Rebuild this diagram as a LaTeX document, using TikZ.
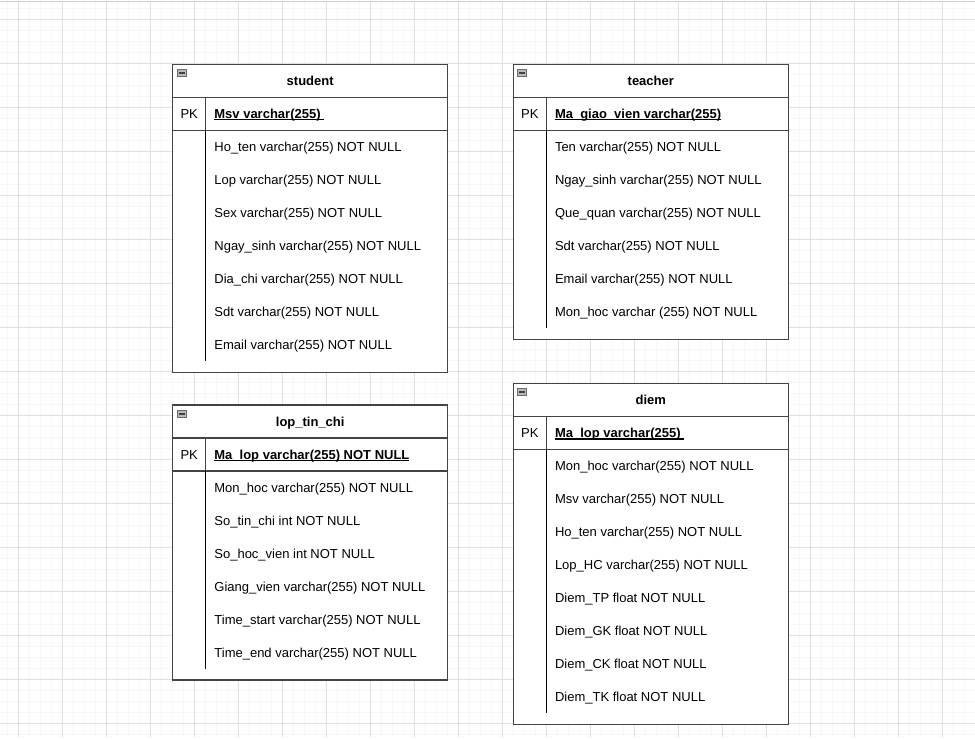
\documentclass[tikz,border=0pt]{standalone}
\usepackage{fontspec}
\setmainfont{Liberation Sans}
\usetikzlibrary{positioning}

\definecolor{gridmajor}{HTML}{E0E0E0}
\definecolor{gridminor}{HTML}{F7F7F7}
\definecolor{tableline}{HTML}{444444}

\tikzstyle{tablebox} = [draw=tableline, line width=1.4pt, fill=white]
\tikzstyle{rowline} = [draw=tableline, line width=1.4pt]
\tikzstyle{pkdivider} = [draw=tableline, line width=1.2pt]
\tikzstyle{bodydivider} = [draw=black, line width=1.5pt]
\tikzstyle{titletext} = [anchor=base, inner sep=0pt, font=\fontsize{13}{15}\selectfont\bfseries]
\tikzstyle{pktext} = [anchor=base, inner sep=0pt, font=\fontsize{13}{15}\selectfont]
\tikzstyle{keytext} = [anchor=base west, inner sep=0pt, font=\fontsize{13}{15}\selectfont\bfseries]
\tikzstyle{fieldtext} = [anchor=base west, inner sep=0pt, font=\fontsize{13}{15}\selectfont]

\newcommand{\keyline}[1]{\setbox0\hbox{#1}\rlap{\rule[-2.2pt]{\wd0}{1.1pt}}\box0}

% #1 name, #2 left, #3 top, #4 title, #5 key, #6 number of rows, #7 rows
\newcommand{\ertable}[7]{%
  \pgfmathsetmacro\tbottom{#3+66+33*#6+11}
  \pgfmathsetmacro\dividerend{#3+66+33*#6}
  \draw[tablebox] (#2,#3) rectangle ({#2+275},\tbottom);
  \draw[rowline] (#2,{#3+33}) -- ({#2+275},{#3+33});
  \draw[rowline] (#2,{#3+66}) -- ({#2+275},{#3+66});
  \draw[pkdivider] ({#2+33},{#3+33}) -- ({#2+33},{#3+66});
  \draw[bodydivider] ({#2+33},{#3+66}) -- ({#2+33},\dividerend);
  % collapse icon
  \draw[draw=gray!85!black, fill=gray!55, line width=0.8pt] ({#2+4.5},{#3+5}) rectangle ({#2+13.5},{#3+12.5});
  \draw[draw=black!75, line width=1.4pt] ({#2+6},{#3+8.8}) -- ({#2+12},{#3+8.8});
  \node[titletext] (#1-title) at ({#2+137.5},{#3+21}) {#4};
  \node[pktext] (#1-pk) at ({#2+16.5},{#3+54}) {PK};
  \node[keytext] (#1-key) at ({#2+41.5},{#3+54}) {\keyline{#5}};
  \foreach \f [count=\i] in {#7}
    \node[fieldtext] (#1-row\i) at ({#2+41.5},{#3+66+33*\i-12}) {\f};
}

\begin{document}
\begin{tikzpicture}[x=1pt,y=-1pt]
\useasboundingbox (0,0) rectangle (975,741);
\fill[white] (0,0) rectangle (975,741);

% grid
\foreach \g in {0,...,88}
  \draw[gridminor, line width=1pt] ({7.5+11*\g},2) -- ({7.5+11*\g},737);
\foreach \g in {0,...,66}
  \draw[gridminor, line width=1pt] (0,{8.5+11*\g}) -- (975,{8.5+11*\g});
\foreach \g in {0,...,21}
  \draw[gridmajor, line width=1pt] ({18.5+44*\g},2) -- ({18.5+44*\g},737);
\foreach \g in {0,...,16}
  \draw[gridmajor, line width=1pt] (0,{19.5+44*\g}) -- (975,{19.5+44*\g});
\draw[gray!35, line width=1.5pt] (0,1.5) -- (975,1.5);

\ertable{student}{172.7}{64.3}{student}{Msv varchar(255)\ }{7}{Ho\_ten varchar(255) NOT NULL, Lop varchar(255) NOT NULL, Sex varchar(255) NOT NULL, Ngay\_sinh varchar(255) NOT NULL, Dia\_chi varchar(255) NOT NULL, Sdt varchar(255) NOT NULL, Email varchar(255) NOT NULL}

\ertable{teacher}{513.3}{64.3}{teacher}{Ma\_giao\_vien varchar(255)}{6}{Ten varchar(255) NOT NULL, Ngay\_sinh varchar(255) NOT NULL, Que\_quan varchar(255) NOT NULL, Sdt varchar(255) NOT NULL, Email varchar(255) NOT NULL, Mon\_hoc varchar (255) NOT NULL}

\ertable{loptinchi}{172.7}{405}{lop\_tin\_chi}{Ma\_lop varchar(255) NOT NULL}{6}{Mon\_hoc varchar(255) NOT NULL, So\_tin\_chi int NOT NULL, So\_hoc\_vien int NOT NULL, Giang\_vien varchar(255) NOT NULL, Time\_start varchar(255) NOT NULL, Time\_end varchar(255) NOT NULL}

\ertable{diem}{513.3}{383.3}{diem}{Ma\_lop varchar(255)\ }{8}{Mon\_hoc varchar(255) NOT NULL, Msv varchar(255) NOT NULL, Ho\_ten varchar(255) NOT NULL, Lop\_HC varchar(255) NOT NULL, Diem\_TP float NOT NULL, Diem\_GK float NOT NULL, Diem\_CK float NOT NULL, Diem\_TK float NOT NULL}

\end{tikzpicture}
\end{document}
